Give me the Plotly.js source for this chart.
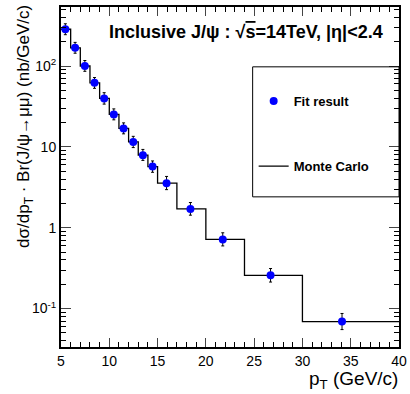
<!DOCTYPE html>
<html>
<head>
<meta charset="utf-8">
<script src="https://cdn.plot.ly/plotly-3.0.1.min.js"></script>
<style>html,body{margin:0;padding:0;background:#fff;}#chart{width:410px;height:394px;}</style>
</head>
<body>
<div id="chart"></div>
<script>
// Data
const fitPt = [5.45, 6.46, 7.47, 8.47, 9.47, 10.47, 11.48, 12.48, 13.48, 14.48, 15.93, 18.4, 21.75, 26.7, 34.1];
const fitXsec = [285, 168, 100, 62, 39.8, 25.2, 16.9, 11.5, 7.9, 5.7, 3.56, 1.71, 0.716, 0.258, 0.069];
const fitErrUp = [48, 28, 17, 10, 7, 4.3, 2.9, 2.0, 1.4, 1.0, 0.75, 0.34, 0.15, 0.055, 0.018];
const fitErrDown = [41, 24, 14, 9, 6, 3.6, 2.4, 1.7, 1.1, 0.85, 0.6, 0.28, 0.12, 0.045, 0.014];
const binEdges = [5, 6, 7, 8, 9, 10, 11, 12, 13, 14, 15, 17, 20, 24, 30, 40];
const mcXsec = [285, 168, 100, 62, 39.8, 25.2, 16.9, 11.5, 7.9, 5.7, 3.56, 1.71, 0.716, 0.258, 0.069];
const yTickVals = [0.1, 1, 10, 100];
const yTickText = ['10<sup>-1</sup>', '1', '10', '10<sup>2</sup>'];
const yMinorVals = [];
[0.01, 0.1, 1, 10, 100].forEach(d => { for (let k = 2; k <= 9; k++) yMinorVals.push(d * k); });

const font = 'Liberation Sans, Arial, sans-serif';
const mcStepY = mcXsec.concat([mcXsec[mcXsec.length - 1]]);

const traces = [
  {
    type: 'scatter', mode: 'lines', name: 'Monte Carlo',
    x: binEdges, y: mcStepY,
    line: {shape: 'hv', color: '#000', width: 1.3},
    legend: 'legend2', hoverinfo: 'skip'
  },
  {
    type: 'scatter', mode: 'markers', name: 'Fit result',
    x: fitPt, y: fitXsec,
    marker: {color: '#0000ff', size: 8},
    error_y: {type: 'data', symmetric: false, array: fitErrUp, arrayminus: fitErrDown,
              color: '#000', thickness: 1, width: 1.5},
    legend: 'legend'
  }
];

const layout = {
  width: 410, height: 394,
  margin: {l: 61, r: 10.5, t: 7, b: 47.3},
  paper_bgcolor: '#fff', plot_bgcolor: '#fff',
  font: {family: font, color: '#000', size: 14},
  showlegend: true,
  xaxis: {
    range: [5, 40], tick0: 5, dtick: 5, ticks: 'inside', ticklen: 9, tickwidth: 1,
    showline: true, linewidth: 2, linecolor: '#000', mirror: 'ticks',
    showgrid: false, zeroline: false, tickfont: {size: 14, family: font},
    minor: {dtick: 1, ticks: 'inside', ticklen: 5, tickwidth: 1, tickcolor: '#000', showgrid: false}
  },
  yaxis: {
    type: 'log', range: [-1.475, 2.730],
    tickmode: 'array', tickvals: yTickVals, ticktext: yTickText,
    ticks: 'inside', ticklen: 10, tickwidth: 1,
    showline: true, linewidth: 2, linecolor: '#000', mirror: 'ticks',
    showgrid: false, zeroline: false, tickfont: {size: 14, family: font},
    minor: {tickmode: 'array', tickvals: yMinorVals, ticks: 'inside', ticklen: 5, tickwidth: 1, tickcolor: '#000', showgrid: false}
  },
  legend: {
    x: 0.57, y: 0.7233, xanchor: 'left', yanchor: 'middle', xref: 'paper', yref: 'paper',
    bgcolor: 'rgba(0,0,0,0)', borderwidth: 0,
    font: {family: font, size: 13, color: '#000', weight: 'bold'}
  },
  legend2: {
    x: 0.57, y: 0.532, xanchor: 'left', yanchor: 'middle', xref: 'paper', yref: 'paper',
    bgcolor: 'rgba(0,0,0,0)', borderwidth: 0,
    font: {family: font, size: 13, color: '#000', weight: 'bold'}
  },
  shapes: [
    {type: 'rect', xref: 'paper', yref: 'paper', x0: 0.567, x1: 1.0, y0: 0.4416, y1: 0.824,
     line: {color: '#000', width: 1}, fillcolor: 'rgba(0,0,0,0)'}
  ],
  annotations: [
    {text: '<b>Inclusive J/ψ : √<span style="text-decoration:overline">s</span>=14TeV, |η|<2.4</b>',
     xref: 'paper', yref: 'paper', x: 0.548, y: 0.927, xanchor: 'center', yanchor: 'middle',
     showarrow: false, font: {family: font, size: 18, color: '#000'}},
    {text: 'p<sub>T</sub> (GeV/c)', xref: 'paper', yref: 'paper', x: 1.0, y: -0.059,
     xanchor: 'right', yanchor: 'top', showarrow: false, borderpad: 0, font: {family: font, size: 19, color: '#000'}},
    {text: 'dσ/dp<sub>T</sub> · Br(J/ψ→μμ) (nb/GeV/c)', xref: 'paper', yref: 'paper',
     x: -0.105, y: 1.012, xanchor: 'center', yanchor: 'top', textangle: -90,
     showarrow: false, font: {family: font, size: 17, color: '#000'}}
  ]
};

Plotly.newPlot('chart', traces, layout, {displayModeBar: false, staticPlot: true});
</script>
</body>
</html>
